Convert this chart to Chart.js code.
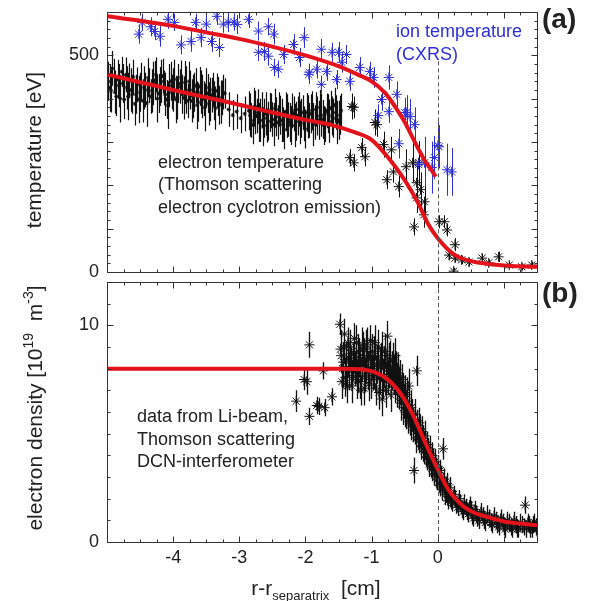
<!DOCTYPE html>
<html>
<head>
<meta charset="utf-8">
<script src="https://cdn.jsdelivr.net/npm/chart.js@4.4.1/dist/chart.umd.min.js"></script>
<style>
  body { margin: 0; background: #fff; width: 595px; height: 601px; overflow: hidden; position: relative; }
  canvas { position: absolute; left: 0; }
</style>
</head>
<body>
<canvas id="tempChart" style="top:0;width:595px;height:290px"></canvas>
<canvas id="densChart" style="top:276px;width:595px;height:325px"></canvas>
<script>
// ---- data: [r - r_sep (cm), value, error] ----
const xTickLabels = [-4, -3, -2, -1, 0];
const tTickLabels = [0, 500];
const nTickLabels = [0, 10];

// electron temperature, Thomson scattering (core side)
const teThomson = [
  [-4.98,440,45],[-4.94,418,50],[-4.90,452,40],[-4.86,405,45],[-4.82,430,50],[-4.78,462,35],
  [-4.74,398,45],[-4.70,425,50],[-4.66,441,40],[-4.62,410,45],[-4.58,388,50],[-4.54,432,40],
  [-4.50,415,45],[-4.46,395,50],[-4.42,420,40],[-4.38,448,45],[-4.34,405,40],[-4.30,435,50],
  [-4.26,455,40],[-4.22,412,45],[-4.18,440,50],[-4.14,425,40],[-4.10,398,45],[-4.06,430,50],
  [-4.02,415,40],[-3.98,445,45],[-3.94,402,50],[-3.90,428,40],[-3.86,410,45],[-3.82,437,50],
  [-3.78,395,40],[-3.74,420,45],[-3.70,405,50],[-3.66,430,40],[-3.62,392,45],[-3.58,415,50],
  [-3.54,400,40],[-3.50,425,45],[-3.46,388,50],[-3.42,408,40],[-3.38,395,45],[-3.34,418,40],
  [-3.30,385,45],[-3.26,402,40],[-3.22,412,35],
  [-4.96,425,55],[-4.92,470,40],[-4.88,415,50],[-4.84,445,45],[-4.80,400,55],[-4.76,435,45],
  [-4.72,455,40],[-4.68,405,55],[-4.64,420,50],[-4.60,450,40],[-4.56,410,45],[-4.52,398,55],
  [-4.48,438,45],[-4.44,425,50],[-4.40,390,55],[-4.36,430,40],[-4.32,418,50],[-4.28,442,45],
  [-4.24,400,55],[-4.20,428,45],[-4.16,452,40],[-4.12,410,50],[-4.08,385,55],[-4.04,440,45],
  [-4.00,420,50],[-3.96,398,55],[-3.92,435,45],[-3.88,448,40],[-3.84,402,50],[-3.80,420,55],
  [-3.76,440,45],[-3.72,395,50],[-3.68,415,45],[-3.64,385,55],[-3.60,428,45],[-3.56,405,50],
  [-3.52,380,55],[-3.48,412,45],[-3.44,398,50],[-3.40,420,40],[-3.36,378,50],[-3.32,405,45],
  [-3.28,392,50],[-3.24,415,40],
  [-3.16,375,40],[-3.10,362,35],[-3.04,370,40],[-2.98,355,35],[-2.92,365,40],
  [-2.86,372,45],[-2.82,350,40],[-2.78,380,45],[-2.74,360,40],[-2.70,345,45],[-2.66,375,40],
  [-2.62,355,45],[-2.58,338,40],[-2.54,368,45],[-2.50,352,40],[-2.46,378,45],[-2.42,345,40],
  [-2.38,362,45],[-2.34,340,40],[-2.30,370,45],[-2.26,352,40],[-2.22,338,45],[-2.18,365,40],
  [-2.14,348,45],[-2.10,375,40],[-2.06,355,45],[-2.02,342,40],[-1.98,368,45],[-1.94,350,40],
  [-1.90,372,45],[-1.86,345,40],[-1.82,360,45],[-1.78,380,40],[-1.74,352,45],[-1.70,340,40],
  [-1.66,365,45],[-1.62,378,40],[-1.58,355,45],[-1.54,368,40],[-1.50,350,45],[-1.46,372,40],
  [-2.84,362,50],[-2.80,340,45],[-2.76,368,50],[-2.72,382,40],[-2.68,350,50],[-2.64,335,45],
  [-2.60,365,50],[-2.56,348,45],[-2.52,372,40],[-2.48,340,50],[-2.44,358,45],[-2.40,375,40],
  [-2.36,350,50],[-2.32,328,45],[-2.28,360,50],[-2.24,345,45],[-2.20,372,40],[-2.16,338,50],
  [-2.12,360,45],[-2.08,345,50],[-2.04,368,40],[-2.00,330,45],[-1.96,358,50],[-1.92,365,45],
  [-1.88,340,50],[-1.84,375,40],[-1.80,350,45],[-1.76,362,50],[-1.72,338,45],[-1.68,372,40],
  [-1.64,348,50],[-1.60,360,45],[-1.56,385,40],[-1.52,345,50],[-1.48,362,45]
];

// electron temperature, edge points (ECE / edge Thomson)
const teEdge = [
  [-1.30,382,30],[-1.27,380,25],[-0.95,345,30],[-0.92,340,28],[-1.15,287,22],[-1.33,264,20],
  [-1.27,252,20],[-1.10,266,22],[-0.82,294,30],[-0.70,282,30],[-0.67,231,25],[-0.77,213,22],
  [-0.59,197,25],[-0.48,243,40],[-0.38,252,45],[-0.29,252,50],[-0.32,206,40],[-0.26,190,40],
  [-0.32,171,35],[-0.20,162,35],[-0.21,132,30],[-0.36,104,20],[0.02,116,15],[0.10,116,15],
  [0.14,97,15],[0.26,63,15],[0.17,39,12],[0.26,32,10],[0.36,28,10],[0.47,23,10],[0.67,32,10],
  [0.77,21,8],[0.92,35,12],[1.08,16,8],[1.27,12,8],[1.42,16,8],[0.24,2,8]
];

// ion temperature, CXRS
const tiCxrs = [
  [-4.52,549,22],[-4.47,576,20],[-4.34,566,22],[-4.28,555,20],[-4.20,544,24],[-4.08,583,22],
  [-3.98,576,20],[-3.88,524,22],[-3.73,532,24],[-3.66,576,20],[-3.58,541,22],[-3.50,572,20],
  [-3.42,532,24],[-3.34,590,20],[-3.30,518,22],[-3.24,572,20],[-3.17,576,22],[-3.08,577,20],
  [-3.03,571,22],[-2.86,583,20],[-2.71,556,22],[-2.71,507,20],[-2.62,509,22],[-2.56,566,20],
  [-2.56,498,22],[-2.48,549,24],[-2.47,472,20],[-2.41,468,20],[-2.33,502,22],[-2.18,525,24],
  [-2.09,495,22],[-2.02,541,24],[-1.95,456,22],[-1.94,461,20],[-1.83,468,22],[-1.76,514,24],
  [-1.76,433,20],[-1.68,463,22],[-1.60,507,22],[-1.53,444,22],[-1.50,507,24],[-1.45,484,24],
  [-1.38,502,22],[-1.33,440,22],[-1.18,472,24],[-1.03,463,22],[-0.97,449,24],[-0.90,361,26],
  [-0.85,398,26],[-0.74,449,28],[-0.74,370,26],[-0.62,410,30],[-0.50,368,34],[-0.47,368,40],
  [-0.42,359,40],[-0.35,340,40],[-0.59,296,34],[-0.29,248,50],[-0.20,252,60],[-0.09,241,60],
  [-0.05,264,50],[0.00,292,55],[0.02,289,50],[0.14,236,60],[0.21,231,55]
];

// fitted profiles [x, value]
const teFit = [
  [-5,456],[-4.5,438],[-4,420],[-3.5,403],[-3,386],[-2.5,368],[-2,351],[-1.6,339],[-1.25,322],
  [-1,305],[-0.75,264],[-0.5,212],[-0.3,160],[-0.15,112],[0,78],[0.25,40],[0.5,25],[0.75,19],
  [1,15],[1.25,13],[1.5,12]
];
const tiFit = [
  [-5,590],[-4.5,580],[-4,568],[-3.5,553],[-3,538],[-2.5,520],[-2,500],[-1.5,475],[-1.2,455],
  [-1,440],[-0.8,414],[-0.7,394],[-0.6,371],[-0.5,346],[-0.4,316],[-0.3,286],[-0.2,258],
  [-0.1,236],[-0.03,220]
];

// electron density (Li-beam, Thomson, DCN)
const neData = [
  [-2.14,6.5,0.5],[-2.02,7.5,0.5],[-1.98,7.4,0.6],[-1.94,9.1,0.6],[-1.94,5.8,0.4],[-1.83,6.3,0.4],
  [-1.80,6.26,0.4],[-1.73,7.9,0.4],[-1.71,6.2,0.4],[-1.60,6.7,0.4],
  [-1.48,10.05,0.5],[-1.46,8.6,0.8],[-1.44,8.0,0.9],[-1.42,9.0,0.8],[-1.40,7.6,0.9],[-1.38,8.4,0.8],
  [-1.36,9.2,0.7],[-1.34,7.9,0.9],[-1.32,8.7,0.8],[-1.30,7.2,0.8],[-1.28,8.3,0.9],[-1.26,9.4,0.7],
  [-1.24,8.1,0.8],[-1.22,7.5,0.9],[-1.20,8.8,0.8],[-1.18,8.2,0.9],[-1.16,7.0,0.7],[-1.14,9.1,0.8],
  [-1.12,8.5,0.9],[-1.10,7.7,0.8],[-1.08,8.9,0.9],[-1.06,8.0,0.8],[-1.04,7.3,0.8],[-1.02,9.3,0.7],
  [-1.00,8.4,0.9],[-0.98,7.8,0.8],[-0.96,8.6,0.9],[-0.94,7.1,0.8],[-0.92,8.2,0.9],[-0.90,9.0,0.8],
  [-0.88,7.6,0.8],[-0.86,8.3,0.9],[-0.84,6.6,0.8],[-0.82,8.0,0.9],[-0.80,8.8,0.8],[-0.78,7.4,0.9],
  [-0.76,9.5,0.7],[-0.74,7.9,0.8],[-0.72,8.4,0.9],[-0.70,7.2,0.8],[-0.68,8.1,0.8],[-0.66,7.7,0.9],
  [-0.64,8.6,0.8],[-0.62,7.0,0.8],[-0.60,7.8,0.9],[-0.58,7.3,0.8],[-0.56,6.6,0.8],[-0.54,7.5,0.7],
  [-0.52,6.2,0.8],[-0.50,6.9,0.8],[-0.48,5.9,0.7],[-0.46,6.5,0.8],[-0.44,7.2,0.8],[-0.42,5.6,0.7],
  [-0.40,6.2,0.8],[-0.38,5.3,0.7],[-0.36,3.3,0.6],[-0.34,5.9,0.7],[-0.32,7.9,0.7],[-0.30,5.0,0.7],
  [-0.28,5.5,0.7],[-0.26,4.6,0.6],[-0.24,5.1,0.7],[-0.22,4.3,0.6],[-0.20,4.9,0.7],[-0.18,4.1,0.6],
  [-0.16,4.5,0.6],[-0.14,3.8,0.6],[-0.12,4.3,0.6],[-0.10,3.6,0.6],[-0.08,4.0,0.6],[-0.06,3.3,0.5],
  [-0.04,3.7,0.6],[-0.02,3.0,0.5],[0.00,3.5,0.5],[0.02,2.8,0.5],[0.04,3.3,0.5],[0.06,2.6,0.5],
  [0.08,4.3,0.5],[0.10,2.9,0.5],[0.12,2.3,0.5],[0.14,2.7,0.5],[0.16,2.1,0.4],[0.18,2.5,0.5],
  [0.20,1.9,0.4],[0.24,2.2,0.4],[0.28,1.7,0.4],[0.32,2.0,0.4],[0.36,1.5,0.4],[0.40,1.8,0.4],
  [0.44,1.4,0.4],[0.48,1.7,0.4],[0.52,1.2,0.4],[0.56,1.5,0.4],[0.60,1.1,0.4],[0.65,1.4,0.4],
  [0.70,1.0,0.4],[0.75,1.3,0.4],[0.80,0.9,0.4],[0.85,1.2,0.4],[0.90,0.8,0.4],[0.95,1.1,0.4],
  [1.00,0.7,0.4],[1.05,1.0,0.4],[1.10,0.7,0.4],[1.15,1.0,0.4],[1.20,0.6,0.4],[1.25,0.9,0.4],
  [1.30,0.7,0.4],[1.32,1.7,0.4],[1.36,0.9,0.4],[1.40,0.6,0.4],[1.44,0.8,0.4],[1.48,0.7,0.4],
  [-1.47,8.9,0.9],[-1.45,7.4,0.8],[-1.43,8.3,0.9],[-1.41,9.6,0.7],[-1.39,8.0,0.9],[-1.37,7.2,0.8],
  [-1.35,8.5,0.9],[-1.33,9.0,0.8],[-1.31,8.1,0.9],[-1.29,7.6,0.8],[-1.27,8.7,0.9],[-1.25,8.0,0.8],
  [-1.23,9.2,0.8],[-1.21,7.8,0.9],[-1.19,8.5,0.9],[-1.17,7.4,0.8],[-1.15,8.3,0.9],[-1.13,8.9,0.8],
  [-1.11,7.1,0.8],[-1.09,8.2,0.9],[-1.07,9.1,0.8],[-1.05,7.9,0.9],[-1.03,8.6,0.8],[-1.01,7.5,0.9],
  [-0.99,8.8,0.8],[-0.97,8.0,0.9],[-0.95,9.2,0.8],[-0.93,7.7,0.9],[-0.91,8.5,0.8],[-0.89,6.9,0.8],
  [-0.87,8.1,0.9],[-0.85,8.9,0.8],[-0.83,7.5,0.9],[-0.81,8.2,0.8],[-0.79,7.0,0.8],[-0.77,8.6,0.9],
  [-0.75,7.6,0.8],[-0.73,8.3,0.9],[-0.71,6.8,0.8],[-0.69,7.9,0.9],[-0.67,8.4,0.8],[-0.65,7.3,0.9],
  [-0.63,8.0,0.8],[-0.61,7.5,0.8],[-0.59,6.9,0.8],[-0.57,7.6,0.8],[-0.55,6.4,0.8],[-0.53,7.0,0.8],
  [-0.51,6.5,0.8],[-0.49,6.0,0.7],[-0.47,6.8,0.8],[-0.45,5.7,0.7],[-0.43,6.3,0.8],[-0.41,5.4,0.7],
  [-0.39,5.9,0.7],[-0.37,5.5,0.7],[-0.35,5.2,0.7],[-0.33,4.8,0.7],[-0.31,5.4,0.7],[-0.29,4.7,0.6],
  [-0.27,5.2,0.7],[-0.25,4.4,0.6],[-0.23,4.8,0.6],[-0.21,4.2,0.6],[-0.19,4.6,0.6],[-0.17,3.9,0.6],
  [-0.15,4.2,0.6],[-0.13,3.6,0.6],[-0.11,4.0,0.6],[-0.09,3.4,0.6],[-0.07,3.8,0.5],[-0.05,3.1,0.5],
  [-0.03,3.4,0.5],[-0.01,2.9,0.5],[0.01,3.2,0.5],[0.03,2.6,0.5],[0.05,3.0,0.5],[0.07,2.4,0.5],
  [0.09,2.7,0.5],[0.11,2.2,0.5],[0.13,2.5,0.5],[0.15,1.9,0.4],[0.17,2.3,0.4],[0.19,2.0,0.4],
  [0.22,1.8,0.4],[0.26,2.0,0.4],[0.30,1.6,0.4],[0.34,1.8,0.4],[0.38,1.4,0.4],[0.42,1.6,0.4],
  [0.46,1.3,0.4],[0.50,1.5,0.4],[0.54,1.1,0.4],[0.58,1.3,0.4],[0.62,1.0,0.4],[0.68,1.2,0.4],
  [0.72,0.9,0.4],[0.78,1.1,0.4],[0.82,0.8,0.4],[0.88,1.0,0.4],[0.92,0.7,0.4],[0.98,0.9,0.4],
  [1.02,0.6,0.4],[1.08,0.9,0.4],[1.12,0.6,0.4],[1.18,0.8,0.4],[1.22,0.6,0.4],[1.28,0.8,0.4],
  [1.34,0.6,0.4],[1.38,0.8,0.4],[1.42,0.6,0.4],[1.46,0.9,0.4],[1.50,0.6,0.4]
];
const neFit = [
  [-5,8.0],[-1.5,8.0],[-1.1,7.95],[-0.85,7.7],[-0.7,7.35],[-0.55,6.8],[-0.45,6.3],[-0.35,5.7],
  [-0.2,4.66],[-0.1,4.0],[0,3.35],[0.17,2.37],[0.3,1.9],[0.4,1.62],[0.55,1.35],[0.77,1.14],
  [1,0.95],[1.25,0.85],[1.5,0.77]
];

const RED = '#e3121b', BLUE = '#2f2fd8', INK = '#222';
const FONT = "'Liberation Sans', Arial, sans-serif";

const pts = a => a.map(([x, y, e]) => ({ x, y, e }));

// vertical error bars under the markers
const errorBars = {
  id: 'errorBars',
  beforeDatasetsDraw(chart) {
    const { ctx, chartArea: a, scales: { x, y } } = chart;
    ctx.save();
    ctx.beginPath(); ctx.rect(a.left, a.top, a.width, a.height); ctx.clip();
    chart.data.datasets.forEach(ds => {
      if (!ds.errBars) return;
      ctx.strokeStyle = ds.borderColor;
      ctx.lineWidth = ds.errWidth || 1;
      ctx.beginPath();
      ds.data.forEach(p => {
        const px = Math.round(x.getPixelForValue(p.x)) + 0.5;
        ctx.moveTo(px, y.getPixelForValue(p.y - p.e));
        ctx.lineTo(px, y.getPixelForValue(p.y + p.e));
      });
      ctx.stroke();
    });
    ctx.restore();
  }
};

// draw text made of runs [text, size, shift]
function drawRuns(ctx, runs, cx, cy, rotate) {
  ctx.save();
  ctx.translate(cx, cy);
  if (rotate) ctx.rotate(-Math.PI / 2);
  let w = 0;
  runs.forEach(r => { ctx.font = r[1] + 'px ' + FONT; w += ctx.measureText(r[0]).width; });
  let x = -w / 2;
  ctx.textBaseline = 'alphabetic';
  ctx.textAlign = 'left';
  runs.forEach(r => {
    ctx.font = r[1] + 'px ' + FONT;
    ctx.fillText(r[0], x, 7 + r[2]);
    x += ctx.measureText(r[0]).width;
  });
  ctx.restore();
}

// IDL style box with inward ticks, separatrix line and labels
const frame = {
  id: 'frame',
  afterDatasetsDraw(chart, args, o) {
    const { ctx, chartArea: a, scales: { x, y } } = chart;
    ctx.save();
    const x0 = Math.round(x.getPixelForValue(0)) + 0.5;
    ctx.strokeStyle = '#555'; ctx.lineWidth = 1; ctx.setLineDash([4, 3]);
    ctx.beginPath(); ctx.moveTo(x0, y.getPixelForValue(o.dashFrom)); ctx.lineTo(x0, a.bottom); ctx.stroke();
    ctx.setLineDash([]);
    ctx.strokeStyle = '#333';
    const L = Math.round(a.left) + 0.5, R = Math.round(a.right) + 0.5;
    const T = Math.round(a.top) + 0.5, B = Math.round(a.bottom) + 0.5;
    ctx.strokeRect(L, T, R - L, B - T);
    ctx.beginPath();
    x.ticks.forEach(t => {
      const px = Math.round(x.getPixelForValue(t.value)) + 0.5;
      const len = Number.isInteger(t.value) ? 6 : 3;
      ctx.moveTo(px, B); ctx.lineTo(px, B - len);
      ctx.moveTo(px, T); ctx.lineTo(px, T + len);
    });
    y.ticks.forEach(t => {
      const py = Math.round(y.getPixelForValue(t.value)) + 0.5;
      const len = t.value % o.yMajor === 0 ? 6 : 3;
      ctx.moveTo(L, py); ctx.lineTo(L + len, py);
      ctx.moveTo(R, py); ctx.lineTo(R - len, py);
    });
    ctx.stroke();
    o.texts.forEach(t => {
      ctx.fillStyle = t.color || INK;
      ctx.font = (t.bold ? 'bold ' : '') + (t.size || 18) + 'px ' + FONT;
      ctx.textAlign = 'left'; ctx.textBaseline = 'middle';
      ctx.fillText(t.t, t.x, t.y);
    });
    ctx.fillStyle = INK;
    o.titles.forEach(t => drawRuns(ctx, t.runs, t.x, t.y, t.rotate));
    ctx.restore();
  }
};

function xScale(showLabels, height) {
  return {
    type: 'linear', min: -5, max: 1.5,
    grid: { display: false, drawTicks: false }, border: { display: false },
    ticks: {
      display: showLabels, stepSize: 0.25, autoSkip: false, maxRotation: 0, padding: 5,
      color: INK, font: { family: FONT, size: 18 },
      callback: v => xTickLabels.includes(v) ? String(v) : ''
    },
    afterFit: s => { s.height = height; s.paddingLeft = 0; s.paddingRight = 0; }
  };
}
function yScale(max, step, labels) {
  return {
    min: 0, max: max,
    grid: { display: false, drawTicks: false }, border: { display: false },
    ticks: {
      stepSize: step, autoSkip: false, padding: 8, color: INK, font: { family: FONT, size: 18 },
      callback: v => labels.includes(v) ? String(v) : ''
    },
    afterFit: s => { s.width = 107; s.paddingTop = 0; s.paddingBottom = 0; }
  };
}
const star = (data, color, r, errBars, errWidth) => ({
  data: pts(data), borderColor: color, backgroundColor: color, pointStyle: 'star',
  pointRadius: r, borderWidth: 1, showLine: false, errBars: errBars, errWidth: errWidth
});
const fit = data => ({
  data: pts(data), borderColor: RED, borderWidth: 4, pointRadius: 0, showLine: true,
  cubicInterpolationMode: 'monotone', fill: false
});

Chart.defaults.font.family = FONT;

new Chart(document.getElementById('tempChart'), {
  type: 'scatter',
  data: {
    datasets: [
      fit(tiFit),
      fit(teFit),
      star(tiCxrs, BLUE, 5, true, 1),
      star(teEdge, '#111', 5, true, 1),
      star(teThomson, '#111', 2, true, 1.2)
    ]
  },
  options: {
    responsive: false, animation: false, events: [],
    layout: { padding: { left: 0, right: 58, top: 12, bottom: 18 } },
    scales: { x: xScale(false, 0), y: yScale(600, 20, tTickLabels) },
    plugins: {
      legend: { display: false }, tooltip: { enabled: false },
      frame: {
        yMajor: 100, dashFrom: 486,
        texts: [
          { t: 'ion temperature', x: 396, y: 32, color: BLUE },
          { t: '(CXRS)', x: 396, y: 55, color: BLUE },
          { t: 'electron temperature', x: 158, y: 163 },
          { t: '(Thomson scattering', x: 158, y: 185 },
          { t: 'electron cyclotron emission)', x: 158, y: 208 },
          { t: '(a)', x: 542, y: 20, bold: true, size: 28 }
        ],
        titles: [
          { runs: [['temperature [eV]', 21, 0]], x: 34, y: 150, rotate: true }
        ]
      }
    }
  },
  plugins: [errorBars, frame]
});

new Chart(document.getElementById('densChart'), {
  type: 'scatter',
  data: {
    datasets: [
      fit(neFit),
      star(neData, '#111', 5, true, 1.3)
    ]
  },
  options: {
    responsive: false, animation: false, events: [],
    layout: { padding: { left: 0, right: 58, top: 4, bottom: 0 } },
    scales: { x: xScale(true, 59), y: yScale(12, 1, nTickLabels) },
    plugins: {
      legend: { display: false }, tooltip: { enabled: false },
      frame: {
        yMajor: 10, dashFrom: 12,
        texts: [
          { t: 'data from Li-beam,', x: 137, y: 141 },
          { t: 'Thomson scattering', x: 137, y: 164 },
          { t: 'DCN-interferometer', x: 137, y: 186 },
          { t: '(b)', x: 542, y: 18, bold: true, size: 28 }
        ],
        titles: [
          { runs: [['electron density [10', 21, 0], ['19', 14, -9], ['  m', 21, 0], ['-3', 14, -9], [']', 21, 0]],
            x: 35, y: 132, rotate: true },
          { runs: [['r-r', 21, 0], ['separatrix', 13, 5], ['  [cm]', 21, 0]], x: 316, y: 312, rotate: false }
        ]
      }
    }
  },
  plugins: [errorBars, frame]
});
</script>
</body>
</html>
